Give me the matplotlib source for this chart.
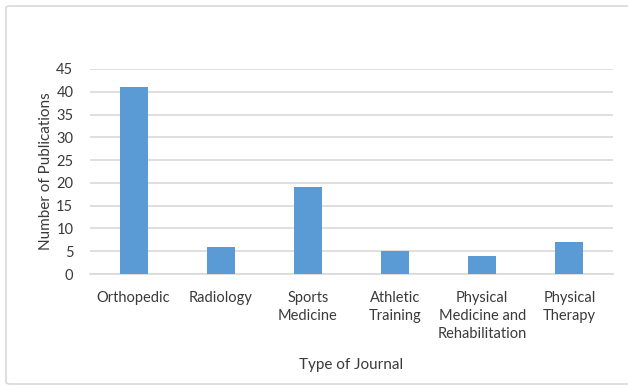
import matplotlib
matplotlib.use("Agg")
import matplotlib.pyplot as plt
from matplotlib.patches import FancyBboxPatch

categories = ["Orthopedic", "Radiology", "Sports\nMedicine", "Athletic\nTraining",
              "Physical\nMedicine and\nRehabilitation", "Physical\nTherapy"]
publications = [41, 6, 19, 5, 4, 7]
y_ticks = [0, 5, 10, 15, 20, 25, 30, 35, 40, 45]

plt.rcParams['font.family'] = ['Lato', 'DejaVu Sans']
text_color = "#3A3A3A"
grid_color = "#D9D9D9"
bar_color = "#5B9BD5"

fig = plt.figure(figsize=(6.28, 3.85), dpi=100)
fig.patch.set_facecolor("white")

# outer chart border (runs past the right edge of the canvas)
border = FancyBboxPatch((6 / 628, 1 - 384 / 385), (640 - 6) / 628, (384 - 6) / 385,
                        boxstyle="round,pad=0,rounding_size=0.006",
                        transform=fig.transFigure, facecolor="none",
                        edgecolor=grid_color, linewidth=1.2, clip_on=False)
fig.patches.append(border)

ax = fig.add_axes([90 / 628, 1 - 274 / 385, (613 - 90) / 628, (274 - 69) / 385])
x = range(len(categories))
ax.bar(x, publications, width=0.32, color=bar_color, zorder=3)

ax.set_xlim(-0.5, len(categories) - 0.5)
ax.set_ylim(0, 45)
ax.set_yticks(y_ticks)
ax.set_xticks(list(x))
ax.set_xticklabels(categories, fontsize=10.5, color=text_color, linespacing=1.38)
ax.tick_params(axis='y', labelsize=10.5, labelcolor=text_color, length=0, pad=12)
ax.tick_params(axis='x', length=0, pad=12)
ax.yaxis.grid(True, color=grid_color, linewidth=1.2, zorder=0)
ax.set_axisbelow(True)
for side in ["top", "right", "left"]:
    ax.spines[side].set_visible(False)
ax.spines["bottom"].set_color(grid_color)
ax.spines["bottom"].set_linewidth(1.2)

ax.set_ylabel("Number of Publications", fontsize=11, color=text_color, labelpad=2)
fig.text(351 / 628, 1 - 365 / 385, "Type of Journal", fontsize=11, color=text_color,
         ha="center", va="center")

fig.savefig("out.png", dpi=100, facecolor="white")
